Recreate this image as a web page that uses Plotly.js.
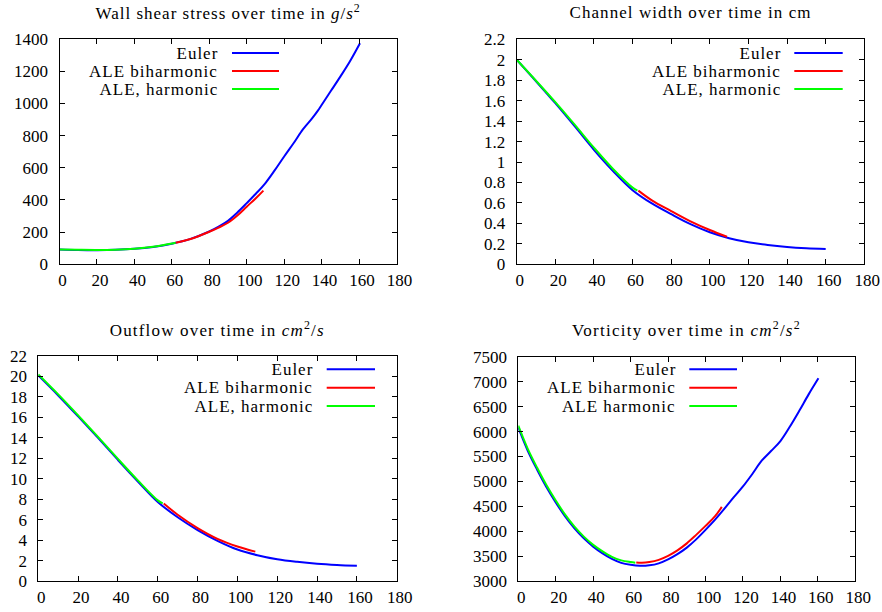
<!DOCTYPE html>
<html>
<head>
<meta charset="utf-8">
<script src="https://cdn.plot.ly/plotly-3.0.1.min.js"></script>
<style>
html,body{margin:0;padding:0;background:#fff;}
#chart{width:882px;height:612px;}
#chart .annotation text{letter-spacing:1px;}
#chart .annotation[data-index="0"] text{letter-spacing:1.0px;}
#chart .annotation[data-index="1"] text{letter-spacing:1.07px;}
#chart .annotation[data-index="2"] text{letter-spacing:1.18px;}
#chart .annotation[data-index="3"] text{letter-spacing:1.24px;}
</style>
</head>
<body>
<div id="chart"></div>
<script>
// ---- Legend labels ----
const legendLabelsTop = ["Euler", "ALE biharmonic", "ALE, harmonic"];
const legendLabelsVort = ["Euler", "ALE biharmonic", "ALE harmonic"];

// ---- Panel titles ----
const titleWSS = "Wall shear stress over time in <i>g</i>/<i>s</i><sup>2</sup>";
const titleWidth = "Channel width over time in cm";
const titleOutflow = "Outflow over time in <i>cm</i><sup>2</sup>/<i>s</i>";
const titleVort = "Vorticity over time in <i>cm</i><sup>2</sup>/<i>s</i><sup>2</sup>";

// ---- Wall shear stress ----
const wssEulerT = [0,10,20,30,40,50,60,70,80,85,90,95,100,105,110,115,120,125,130,135,138,140,145,150,155,160.5];
const wssEulerV = [92,89,88,90,96,108,128,158,204,234,270,322,380,440,505,585,670,752,838,908,955,990,1078,1166,1258,1373];
const wssBiT = [62,70,80,85,90,95,100,105,108.9];
const wssBiV = [134,157,202,228,258,303,358,412,458];
const wssHarT = [0,10,20,30,40,50,60,62];
const wssHarV = [92,90,89,91,97,109,129,134];

// ---- Channel width ----
const widEulerT = [0,10,20,30,40,50,60,70,80,90,100,110,120,130,140,150,160];
const widEulerV = [2.0,1.79,1.575,1.35,1.12,0.91,0.725,0.595,0.49,0.392,0.313,0.255,0.215,0.188,0.169,0.157,0.150];
const widBiT = [63,70,80,90,100,108.9];
const widBiV = [0.72,0.625,0.52,0.42,0.335,0.27];
const widHarT = [0,10,20,30,40,50,60,62.5];
const widHarV = [2.0,1.795,1.585,1.365,1.14,0.93,0.75,0.72];

// ---- Outflow ----
const outEulerT = [0,10,20,30,40,50,60,70,80,90,100,110,120,130,140,150,160];
const outEulerV = [20.1,18.15,16.1,14.0,11.85,9.75,7.75,6.25,5.0,3.95,3.1,2.55,2.15,1.9,1.72,1.6,1.52];
const outBiT = [63,70,80,90,100,109];
const outBiV = [7.6,6.5,5.2,4.15,3.4,2.9];
const outHarT = [0,10,20,30,40,50,60,62.5];
const outHarV = [20.2,18.25,16.2,14.1,11.95,9.85,7.9,7.6];

// ---- Vorticity ----
const vorEulerT = [0,5,10,15,20,25,30,35,40,45,50,55,60,65,70,75,80,85,90,95,100,105,110,115,120,125,130,135,140,145,150,155,160.3];
const vorEulerV = [6080,5620,5240,4890,4580,4300,4060,3860,3695,3560,3450,3370,3330,3310,3320,3360,3440,3545,3675,3840,4030,4230,4450,4680,4900,5150,5416,5610,5810,6095,6410,6740,7067];
const vorBiT = [63,66,70,75,80,85,90,95,100,105,108.7];
const vorBiV = [3375,3370,3385,3430,3510,3620,3760,3930,4110,4300,4490];
const vorHarT = [0,5,10,15,20,25,30,35,40,45,50,55,60,62.5];
const vorHarV = [6120,5660,5280,4930,4620,4335,4095,3895,3730,3600,3490,3420,3385,3373];

const colors = ["#0000ff", "#ff0000", "#00ff00"];
const FONT = "Liberation Serif, Times New Roman, serif";
const LEG_SPACING = 1; // matches CSS letter-spacing of legend texts
const W = 882, H = 612;
const px = v => v / W;
const py = v => 1 - v / H;

function tr(x, y, c, ax) {
  return {x: x, y: y, type: "scatter", mode: "lines",
          line: {color: c, width: 2, shape: "spline", smoothing: 1},
          xaxis: "x" + ax, yaxis: "y" + ax, showlegend: false, hoverinfo: "skip"};
}
const data = [
  tr(wssEulerT, wssEulerV, colors[0], ""), tr(wssBiT, wssBiV, colors[1], ""), tr(wssHarT, wssHarV, colors[2], ""),
  tr(widEulerT, widEulerV, colors[0], "2"), tr(widBiT, widBiV, colors[1], "2"), tr(widHarT, widHarV, colors[2], "2"),
  tr(outEulerT, outEulerV, colors[0], "3"), tr(outBiT, outBiV, colors[1], "3"), tr(outHarT, outHarV, colors[2], "3"),
  tr(vorEulerT, vorEulerV, colors[0], "4"), tr(vorBiT, vorBiV, colors[1], "4"), tr(vorHarT, vorHarV, colors[2], "4")
];

function xa(dom, anchor) {
  return {domain: dom, anchor: anchor, range: [0, 180], tickvals: [0,20,40,60,80,100,120,140,160,180],
    ticks: "inside", ticklen: 5, tickcolor: "#000", mirror: "allticks", showline: true, linecolor: "#000",
    linewidth: 1, showgrid: false, zeroline: false, tickfont: {family: FONT, size: 17, color: "#000"},
    ticklabelshift: 3, fixedrange: true};
}
function ya(dom, anchor, range, dtick) {
  return {domain: dom, anchor: anchor, range: range, dtick: dtick, tick0: range[0],
    ticks: "inside", ticklen: 5, tickcolor: "#000", mirror: "allticks", showline: true, linecolor: "#000",
    linewidth: 1, showgrid: false, zeroline: false, tickfont: {family: FONT, size: 17, color: "#000"},
    ticklabelstandoff: 7, fixedrange: true};
}

const panels = [
  {xd: [px(59.5), px(396.5)], yd: [py(264.3), py(39)], title: titleWSS, ty: 12,
   leg: {textR: 220, l0: 232, l1: 279, rows: [53, 71, 89]}, labels: legendLabelsTop},
  {xd: [px(516.7), px(864.3)], yd: [py(264.3), py(39.3)], title: titleWidth, ty: 12,
   leg: {textR: 783.3, l0: 794.3, l1: 842.7, rows: [53, 71, 89]}, labels: legendLabelsTop},
  {xd: [px(38.3), px(396.7)], yd: [py(581.3), py(356)], title: titleOutflow, ty: 329,
   leg: {textR: 315, l0: 326.7, l1: 375, rows: [369.3, 387.7, 406]}, labels: legendLabelsTop},
  {xd: [px(518.3), px(855.3)], yd: [py(581.3), py(356.7)], title: titleVort, ty: 329,
   leg: {textR: 678.3, l0: 689.3, l1: 737, rows: [369.3, 387.7, 406]}, labels: legendLabelsVort}
];

const layout = {
  width: W, height: H, margin: {l: 0, r: 0, t: 0, b: 0},
  paper_bgcolor: "#fff", plot_bgcolor: "#fff", showlegend: false,
  font: {family: FONT, size: 17, color: "#000"},
  xaxis: xa(panels[0].xd, "y"), yaxis: ya(panels[0].yd, "x", [0, 1400], 200),
  xaxis2: xa(panels[1].xd, "y2"), yaxis2: ya(panels[1].yd, "x2", [0, 2.2], 0.2),
  xaxis3: xa(panels[2].xd, "y3"), yaxis3: ya(panels[2].yd, "x3", [0, 22], 2),
  xaxis4: xa(panels[3].xd, "y4"), yaxis4: ya(panels[3].yd, "x4", [3000, 7500], 500),
  annotations: [], shapes: []
};

// titles first (annotation indices 0-3), centred over each panel
panels.forEach(p => {
  layout.annotations.push({xref: "paper", yref: "paper", x: (p.xd[0] + p.xd[1]) / 2, y: py(p.ty),
    xanchor: "center", yanchor: "middle", showarrow: false, text: p.title,
    font: {family: FONT, size: 17, color: "#000"}});
});
// gnuplot-style legends: right-aligned text followed by a line sample
panels.forEach(p => {
  p.labels.forEach((lab, i) => {
    layout.annotations.push({xref: "paper", yref: "paper", x: px(p.leg.textR), y: py(p.leg.rows[i]),
      xanchor: "right", yanchor: "middle", showarrow: false, text: lab,
      xshift: -lab.length * LEG_SPACING / 2,
      font: {family: FONT, size: 17, color: "#000"}});
    layout.shapes.push({type: "line", xref: "paper", yref: "paper",
      x0: px(p.leg.l0), x1: px(p.leg.l1), y0: py(p.leg.rows[i]), y1: py(p.leg.rows[i]),
      line: {color: colors[i], width: 2}});
  });
});

Plotly.newPlot("chart", data, layout, {displayModeBar: false, staticPlot: true});
</script>
</body>
</html>
